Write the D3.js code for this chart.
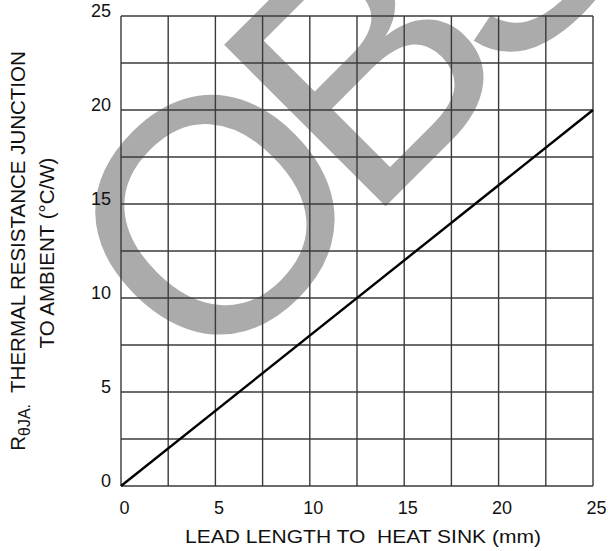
<!DOCTYPE html>
<html>
<head>
<meta charset="utf-8">
<script src="https://cdn.jsdelivr.net/npm/d3@7"></script>
<style>
  html, body { margin: 0; padding: 0; background: #fff; }
  svg { display: block; font-family: "Liberation Sans", Arial, sans-serif; }
</style>
</head>
<body>
<svg id="chart" width="608" height="551"></svg>
<script>
// ---- data ----
const leadLength = [0, 25];          // mm
const thermalRes = [0, 20];          // °C/W
const xTicks = [0, 5, 10, 15, 20, 25];
const yTicks = [0, 5, 10, 15, 20, 25];
const gridX = [0, 2.5, 5, 7.5, 10, 12.5, 15, 17.5, 20, 22.5, 25];
const gridY = [0, 2.5, 5, 7.5, 10, 12.5, 15, 17.5, 20, 22.5, 25];
const xTitle = "LEAD LENGTH TO  HEAT SINK (mm)";
const yTitle1 = "THERMAL RESISTANCE JUNCTION";
const yTitle2 = "TO AMBIENT (°C/W)";
const watermark = ["O", "B", "S"];

// ---- layout ----
const svg = d3.select("#chart");
const L = 121, R = 593, T = 16, B = 486;
const x = d3.scaleLinear().domain([0, 25]).range([L, R]);
const y = d3.scaleLinear().domain([0, 25]).range([B, T]);

// watermark (under the grid)
const wm = svg.append("text")
  .attr("transform", "translate(205,387) rotate(-45)")
  .attr("font-size", 332)
  .attr("fill", "#ababab");
wm.selectAll("tspan").data(watermark).join("tspan")
  .attr("dx", (d, i) => i === 0 ? 0 : -30)
  .text(d => d);

// grid
const grid = svg.append("g").attr("stroke", "#3a3a3a").attr("stroke-width", 1.4);
grid.selectAll("line.v").data(gridX).join("line")
  .attr("x1", d => x(d)).attr("x2", d => x(d))
  .attr("y1", T).attr("y2", B);
grid.selectAll("line.h").data(gridY).join("line")
  .attr("y1", d => y(d)).attr("y2", d => y(d))
  .attr("x1", L).attr("x2", R);

// data line
svg.append("path")
  .datum(leadLength.map((d, i) => [d, thermalRes[i]]))
  .attr("fill", "none")
  .attr("stroke", "#000")
  .attr("stroke-width", 2.4)
  .attr("d", d3.line().x(d => x(d[0])).y(d => y(d[1])));

// x axis labels
const xAxis = svg.append("g")
  .attr("transform", `translate(3,${B})`)
  .call(d3.axisBottom(x).tickValues(xTicks).tickSize(0).tickPadding(15).tickFormat(d3.format("d")));
xAxis.select(".domain").remove();
xAxis.selectAll("text").attr("font-size", 18).attr("fill", "#111")
  .attr("font-family", "Liberation Sans, Arial, sans-serif");

// y axis labels
const yAxis = svg.append("g")
  .attr("transform", `translate(${L - 10},-5)`)
  .call(d3.axisLeft(y).tickValues(yTicks).tickSize(0).tickPadding(0).tickFormat(d3.format("d")));
yAxis.select(".domain").remove();
yAxis.selectAll("text").attr("font-size", 18).attr("fill", "#111")
  .attr("font-family", "Liberation Sans, Arial, sans-serif");

// x title
svg.append("text")
  .attr("x", 363).attr("y", 543)
  .attr("text-anchor", "middle")
  .attr("font-size", 18)
  .style("white-space", "pre")
  .attr("textLength", 356).attr("lengthAdjust", "spacingAndGlyphs")
  .attr("fill", "#111")
  .text(xTitle);

// y title line 1
const t1 = svg.append("text")
  .attr("transform", "translate(25,251) rotate(-90)")
  .attr("text-anchor", "middle")
  .attr("font-size", 20.5)
  .style("white-space", "pre")
  .attr("fill", "#111");
t1.append("tspan").text("R");
t1.append("tspan").attr("font-size", 16).attr("dy", 5).text("θJA.");
t1.append("tspan").attr("dy", -5).text("  " + yTitle1);

// y title line 2
svg.append("text")
  .attr("transform", "translate(54,253) rotate(-90)")
  .attr("text-anchor", "middle")
  .attr("font-size", 20.5)
  .attr("fill", "#111")
  .text(yTitle2);
</script>
</body>
</html>
